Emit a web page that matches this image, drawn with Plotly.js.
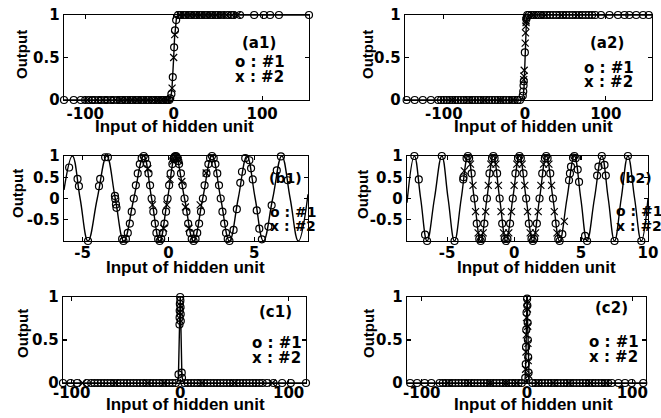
<!DOCTYPE html>
<html>
<head>
<meta charset="utf-8">
<script src="https://cdn.plot.ly/plotly-3.0.1.min.js"></script>
<style>html,body{margin:0;padding:0;background:#fff;}#chart{width:661px;height:418px;}</style>
</head>
<body>
<div id="chart"></div>
<script>
// ---------- DATA ----------
// Panel (a1): sigmoid
const a1_line_x = [-124, -10, -6, -4, -3, -2, -1, 0, 1, 2, 3, 4, 6, 10, 153];
const a1_line_y = [0, 0, 0.003, 0.02, 0.05, 0.12, 0.27, 0.5, 0.73, 0.88, 0.95, 0.98, 0.997, 1, 1];
const a1_o_x = [-124,-113,-105,-100,-96,-92,-89,-85,-82,-78,-75,-71,-68,-64,-61,-58,-55,-52,-49,-46,-43,-40,-37,-34,-31,-28,-25,-22,-20,-17,-14,-12,-9,-7,-5,
  -3.9,-2.6,-1,0.5,1.5,2.8,
  5,8,11,14,17,20,23,26,29,32,35,38,41,44,47,50,53,57,61,65,68,75,91,102,109,119,153];
const a1_o_y = [0,0,0,0,0,0,0,0,0,0,0,0,0,0,0,0,0,0,0,0,0,0,0,0,0,0,0,0,0,0,0,0,0,0,0,
  0.02,0.07,0.27,0.62,0.82,0.94,
  1,1,1,1,1,1,1,1,1,1,1,1,1,1,1,1,1,1,1,1,1,1,1,1,1,1,1];
const a1_x_x = [-97,-87,-80,-73,-66,-60,-53,-47,-41,-35,-29,-23,-18,-13,-8,-1.8,0,1.2,7,12,18,24,30,36,42,48,54,60,66,72];
const a1_x_y = [0,0,0,0,0,0,0,0,0,0,0,0,0,0,0,0.14,0.5,0.77,1,1,1,1,1,1,1,1,1,1,1,1];

// Panel (a2): sigmoid
const a2_line_x = [-148, -6, -3, -2, -1, 0, 1, 2, 3, 6, 157];
const a2_line_y = [0, 0, 0.02, 0.05, 0.15, 0.5, 0.85, 0.95, 0.98, 1, 1];
const a2_o_x = [-146,-136,-126,-116,-107,-103.5,-100,-96.5,-93,-89.5,-86,-82.5,-79,-75.5,-72,-68.5,-65,-61.5,-58,-54.5,-51,-47.5,-44,-40.5,-37,-33.5,-30,-26.5,-23,-19.5,-16,-12.5,-9,-6,
  -2.6,-2.0,-1.6,-1.3,0,1.8,2.2,
  3,5,8,11,14,17,20,23,27,31,35,39,43,47,51,55,59,63,67,71,75,79,83,87,94,104.5,115,123,129,137.5,146,153];
const a2_o_y = [0,0,0,0,0,0,0,0,0,0,0,0,0,0,0,0,0,0,0,0,0,0,0,0,0,0,0,0,0,0,0,0,0,0,
  0.05,0.1,0.17,0.22,0.56,0.95,0.97,
  1,1,1,1,1,1,1,1,1,1,1,1,1,1,1,1,1,1,1,1,1,1,1,1,1,1,1,1,1,1,1,1];
const a2_x_x = [-1.2,-1.4,0.4,0.8,1.2,1.5,1.6,-0.8,-90,-70,-50,-30,-15,10,25,45,65];
const a2_x_y = [0.28,0.24,0.67,0.79,0.87,0.91,0.93,0.35,0,0,0,0,0,1,1,1,1];

// Panel (b1): sine-like
const b1_line_x = [-6.09,-5.60,-5.15,-4.69,-4.15,-3.60,-3.10,-2.60,-2.02,-1.44,-0.98,-0.51,-0.05,0.41,0.94,1.47,2.00,2.54,3.05,3.56,4.07,4.58,5.06,5.54,6.08,6.61,7.10,7.58,8.14];
const b1_line_y = [0.2,1,0,-1,0,1,0,-1,0,1,0,-1,0,1,0,-1,0,1,0,-1,0,1,0,-1,0,1,0,-1,0.1];
const b1_o_x = [-5.79,-5.30,-5.22,-4.69,-3.98,-4.05,-3.69,-3.53,-3.12,-3.10,-3.06,-3.03,-2.70,-2.62,
  -2.48,-2.37,-2.25,-2.14,-2.02,-1.90,-1.79,-1.67,-1.56,-1.44,
  -1.35,-1.25,-1.16,-1.07,-0.98,-0.88,-0.79,-0.70,-0.60,-0.51,
  -0.42,-0.33,-0.23,-0.14,-0.05,0.04,0.13,0.23,0.32,0.41,
  0.30,0.36,0.46,0.52,0.58,
  0.62,0.73,0.83,0.94,1.05,1.15,1.26,1.36,1.47,
  1.58,1.68,1.79,1.90,2.01,2.11,2.22,2.33,2.43,2.54,
  2.64,2.74,2.85,2.95,3.05,3.15,3.25,3.36,3.46,3.56,
  3.80,3.99,4.19,4.29,4.48,
  4.72,4.82,4.92,5.15,5.30,5.45,
  5.83,6.02,6.32,6.56,6.96];
const b1_o_y = [0.73,0.46,0.29,-1.0,0.46,0.29,0.97,0.97,0.06,-0.01,-0.14,-0.22,-0.95,-1.0,
  -0.95,-0.81,-0.59,-0.31,0,0.31,0.59,0.81,0.95,1.0,
  0.95,0.81,0.59,0.31,0,-0.31,-0.59,-0.81,-0.95,-1.0,
  -0.95,-0.81,-0.59,-0.31,0,0.31,0.59,0.81,0.95,1.0,
  0.93,0.98,0.99,0.95,0.88,
  0.81,0.59,0.31,0,-0.31,-0.59,-0.81,-0.95,-1.0,
  -0.95,-0.81,-0.59,-0.31,0,0.31,0.59,0.81,0.95,1.0,
  0.95,0.81,0.59,0.31,0,-0.31,-0.59,-0.81,-0.95,-1.0,
  -0.74,-0.25,0.37,0.63,0.95,
  0.90,0.71,0.45,-0.28,-0.71,-0.96,
  -0.66,-0.16,0.66,0.99,0.43];
const b1_x_x = [-0.28,-0.09,0.09,0.27,0.57,0.78,0.99,1.20,-1.20,-0.93,1.85,2.20];
const b1_x_y = [-0.70,-0.15,0.45,0.88,0.90,0.40,-0.20,-0.70,0.70,-0.15,-0.15,0.60];

// Panel (b2): sine-like
const b2_line_x = [-8,-7.45,-6.98,-6.5,-5.95,-5.4,-4.93,-4.45,-3.95,-3.45,-2.98,-2.5,-2.03,-1.55,-1.08,-0.6,-0.1,0.4,0.9,1.4,1.9,2.4,2.9,3.4,3.95,4.5,4.98,5.45,6.0,6.55,7.03,7.5,8.0,8.5,9.0,9.5,10];
const b2_line_y = [-0.1,1,0,-1,0,1,0,-1,0,1,0,-1,0,1,0,-1,0,1,0,-1,0,1,0,-1,0,1,0,-1,0,1,0,-1,0,1,0,-1,0];
const b2_o_x = [-7.45,-7.12,-6.65,-6.5,-5.4,-4.45,-3.80,-3.78,-3.55,
  -3.45,-3.36,-3.17,-2.98,-2.79,-2.60,
  -2.5,-2.41,-2.22,-2.03,-1.84,-1.65,
  -1.55,-1.46,-1.27,-1.08,-0.89,-0.70,
  -0.6,-0.5,-0.3,-0.1,0.1,0.3,
  0.4,0.5,0.7,0.9,1.1,1.3,
  1.4,1.5,1.7,1.9,2.1,2.3,
  2.4,2.5,2.7,2.9,3.1,3.3,3.4,
  3.6,4.1,4.17,4.25,4.4,4.5,
  4.6,4.75,4.85,5.3,5.45,
  6.2,6.3,6.55,6.75,6.85,7.5,8.5,9.5];
const b2_o_y = [1.0,0.45,-0.85,-1.0,1.0,-1.0,0.45,0.5,0.95,
  1.0,0.95,0.59,0,-0.59,-0.95,
  -1.0,-0.95,-0.59,0,0.59,0.95,
  1.0,0.95,0.59,0,-0.59,-0.95,
  -1.0,-0.95,-0.59,0,0.59,0.95,
  1.0,0.95,0.59,0,-0.59,-0.95,
  -1.0,-0.95,-0.59,0,0.59,0.95,
  1.0,0.95,0.59,0,-0.59,-0.95,-1.0,
  -0.84,0.43,0.59,0.75,0.96,1.0,
  0.95,0.68,0.39,-0.88,-1.0,
  0.54,0.75,1.0,0.79,0.54,-1.0,1.0,-1.0];
const b2_x_x = [-3.72,-3.26,-3.07,-2.88,-2.69,-2.31,-2.12,-1.93,-1.74,-1.36,-1.17,-0.98,-0.79,-0.4,-0.2,0.0,0.2,0.6,0.8,1.0,1.2,1.6,1.8,2.0,2.2,2.6,2.8,3.0,3.2,3.75];
const b2_x_y = [0.65,0.81,0.31,-0.31,-0.81,-0.81,-0.31,0.31,0.81,0.81,0.31,-0.31,-0.81,-0.81,-0.31,0.31,0.81,0.81,0.31,-0.31,-0.81,-0.81,-0.31,0.31,0.81,0.81,0.31,-0.31,-0.81,-0.54];

// Panel (c1): narrow bump
const c1_line_x = [-108,-3,-1.6,-1.1,-0.8,-0.5,-0.25,0,0.25,0.5,0.8,1.1,1.6,3,116];
const c1_line_y = [0,0,0.08,0.3,0.53,0.78,0.94,1,0.94,0.78,0.53,0.3,0.08,0,0];
const c1_o_x = [-108,-101,-95,-86,-82,-79,-76,-73,-70,-67,-64,-61,-58,-55,-52,-49,-46,-43,-40,-37,-34,-31,-28,-25,-22,-19,-16,-13,-10,-7,-4,
  -0.62,0.58,-0.53,0.48,-0.42,0.36,-0.29,0.2,0,-1.5,1.45,1.7,
  4,7,10,13,16,19,22,25,28,31,34,37,40,43,46,49,52,55,58,61,64,67,70,73,76,80,86,94,102,116];
const c1_o_y = [0,0,0,0,0,0,0,0,0,0,0,0,0,0,0,0,0,0,0,0,0,0,0,0,0,0,0,0,0,0,0,
  0.68,0.72,0.76,0.8,0.84,0.88,0.92,0.96,1.0,0.1,0.12,0.06,
  0,0,0,0,0,0,0,0,0,0,0,0,0,0,0,0,0,0,0,0,0,0,0,0,0,0,0,0,0,0];
const c1_x_x = [-90,-60,-30,-15,20,50,85,0.3,-0.4];
const c1_x_y = [0,0,0,0,0,0,0,0.9,0.82];

// Panel (c2): narrow bump
const c2_line_x = [-114,-3,-2,-1.4,-1,-0.6,-0.3,0,0.3,0.6,1,1.4,2,3,113];
const c2_line_y = [0,0,0.02,0.14,0.37,0.7,0.91,1,0.91,0.7,0.37,0.14,0.02,0,0];
const c2_o_x = [-111,-104.4,-97.2,-90.9,-83,-80,-77,-74,-71,-68,-65,-62,-59,-56,-53,-50,-47,-44,-41,-38,-35,-32,-29,-26,-23,-20,-17,-14,-11,-8,-5,
  5,8,11,14,17,20,23,26,29,32,35,38,41,44,47,50,53,56,59,62,65,68,71,74,77,80.5,86.8,93.1,99.4,110.4,
  0.1,0.31,-0.45,0.6,-0.7,0.8,-0.93,1.1,-1.2,1.45,-1.7];
const c2_o_y = [0,0,0,0,0,0,0,0,0,0,0,0,0,0,0,0,0,0,0,0,0,0,0,0,0,0,0,0,0,0,0,
  0,0,0,0,0,0,0,0,0,0,0,0,0,0,0,0,0,0,0,0,0,0,0,0,0,0,0,0,0,0,
  0.98,0.9,0.82,0.7,0.62,0.5,0.42,0.3,0.22,0.12,0.06];
const c2_x_x = [-0.22,0.38,-0.52,0.65,-0.75,0.87,-1.0,1.15,-1.35,1.6,-75,-55,-35,-20,-10,10,25,40,60,75];
const c2_x_y = [0.94,0.86,0.76,0.66,0.56,0.46,0.36,0.26,0.16,0.09,0,0,0,0,0,0,0,0,0,0];

// Tick labels
const tick_big_vals = [-100, 0, 100];
const tick_big_text = ['-100', '0', '100'];
const tick_b1_vals = [-5, 0, 5];
const tick_b1_text = ['-5', '0', '5'];
const tick_b2_vals = [-5, 0, 5, 10];
const tick_b2_text = ['-5', '0', '5', '10'];
const ytick_01_vals = [0, 0.5, 1];
const ytick_01_text = ['0', '0.5', '1'];
const ytick_b_vals = [-0.5, 0, 0.5, 1];
const ytick_b_text = ['-0.5', '0', '0.5', '1'];

const panelLabels = ['(a1)', '(a2)', '(b1)', '(b2)', '(c1)', '(c2)'];
const legendO = 'o : #1';
const legendX = 'x : #2';
const xTitle = 'Input of hidden unit';
const yTitle = 'Output';

// ---------- BUILD ----------
const TICKFONT = {family:'DejaVu Sans', size:15, color:'#000', weight:'bold'};
const TITLEFONT = {family:'Liberation Sans', size:17, color:'#000', weight:'bold'};
const YTITLEFONT = {family:'Liberation Sans', size:15, color:'#000', weight:'bold'};
const W = 661, H = 418;
const px = v => v / W;
const py = v => 1 - v / H;

const panels = [
  {lx:a1_line_x, ly:a1_line_y, ox:a1_o_x, oy:a1_o_y, xx:a1_x_x, xy:a1_x_y, shape:'linear',
   dom:[64,309], ydom:[15,100], range:[-124,153], yr:[0,1], tv:tick_big_vals, tt:tick_big_text, ytv:ytick_01_vals, ytt:ytick_01_text, tls:0},
  {lx:a2_line_x, ly:a2_line_y, ox:a2_o_x, oy:a2_o_y, xx:a2_x_x, xy:a2_x_y, shape:'linear',
   dom:[405,652], ydom:[15,100], range:[-148,157], yr:[0,1], tv:tick_big_vals, tt:tick_big_text, ytv:ytick_01_vals, ytt:ytick_01_text, tls:0},
  {lx:b1_line_x, ly:b1_line_y, ox:b1_o_x, oy:b1_o_y, xx:b1_x_x, xy:b1_x_y, shape:'spline',
   dom:[64,308], ydom:[156,241], range:[-6.09,8.14], yr:[-1,1], tv:tick_b1_vals, tt:tick_b1_text, ytv:ytick_b_vals, ytt:ytick_b_text, tls:-2},
  {lx:b2_line_x, ly:b2_line_y, ox:b2_o_x, oy:b2_o_y, xx:b2_x_x, xy:b2_x_y, shape:'spline',
   dom:[407,648], ydom:[156,241], range:[-8,10], yr:[-1,1], tv:tick_b2_vals, tt:tick_b2_text, ytv:ytick_b_vals, ytt:ytick_b_text, tls:-2},
  {lx:c1_line_x, ly:c1_line_y, ox:c1_o_x, oy:c1_o_y, xx:c1_x_x, xy:c1_x_y, shape:'linear',
   dom:[63,306], ydom:[297,383], range:[-108,116], yr:[0,1], tv:tick_big_vals, tt:tick_big_text, ytv:ytick_01_vals, ytt:ytick_01_text, tls:-4},
  {lx:c2_line_x, ly:c2_line_y, ox:c2_o_x, oy:c2_o_y, xx:c2_x_x, xy:c2_x_y, shape:'linear',
   dom:[407,646], ydom:[297,383], range:[-114,113], yr:[0,1], tv:tick_big_vals, tt:tick_big_text, ytv:ytick_01_vals, ytt:ytick_01_text, tls:-4}
];

// text anchor positions in pixels
const annoPos = [
  [[240,43],[233,62],[233,77]],
  [[588,43],[582,68],[582,82]],
  [[267,178],[268,212],[268,226]],
  [[617,178],[614,211],[614,226]],
  [[257,312],[250,343],[250,358]],
  [[593,308],[587,342],[587,357]]
];
const legendSize = [15, 15, 14, 14, 15, 15];
const xTitlePos = [[174,127],[533,127],[186,267],[536,267],[185,404],[533,404]];
const yTitlePos = [[22,55],[368,55],[17,194],[363,195],[22,334],[368,334]];

const traces = [];
const layout = {
  width: W, height: H,
  margin: {l:0, r:0, t:0, b:0, pad:0},
  paper_bgcolor: '#ffffff', plot_bgcolor: '#ffffff',
  showlegend: false,
  font: {family: 'DejaVu Sans', color: '#000', size: 15},
  annotations: []
};

panels.forEach((p, i) => {
  const n = i + 1;
  const xa = n === 1 ? 'x' : 'x' + n;
  const ya = n === 1 ? 'y' : 'y' + n;
  traces.push({x:p.lx, y:p.ly, xaxis:xa, yaxis:ya, type:'scatter', mode:'lines',
    line:{color:'#000', width:1.4, shape:p.shape, smoothing:1.2}, hoverinfo:'skip'});
  traces.push({x:p.ox, y:p.oy, xaxis:xa, yaxis:ya, type:'scatter', mode:'markers', cliponaxis:false,
    marker:{symbol:'circle-open', size:7, color:'#000', line:{color:'#000', width:1.2}}});
  traces.push({x:p.xx, y:p.xy, xaxis:xa, yaxis:ya, type:'scatter', mode:'markers', cliponaxis:false,
    marker:{symbol:'x-thin-open', size:7, color:'#000', line:{color:'#000', width:1.2}}});

  const xkey = n === 1 ? 'xaxis' : 'xaxis' + n;
  const ykey = n === 1 ? 'yaxis' : 'yaxis' + n;
  const common = {showline:true, mirror:'ticks', linecolor:'#000', linewidth:1.4,
    ticks:'inside', ticklen:4, tickwidth:1.2, tickcolor:'#000', showgrid:false, zeroline:false,
    tickfont:TICKFONT, tickmode:'array', fixedrange:true};
  layout[xkey] = Object.assign({}, common, {
    domain:[px(p.dom[0]), px(p.dom[1])], range:p.range, anchor:ya,
    tickvals:p.tv, ticktext:p.tt, ticklabelstandoff:p.tls
  });
  layout[ykey] = Object.assign({}, common, {
    domain:[py(p.ydom[1]), py(p.ydom[0])], range:p.yr, anchor:xa,
    tickvals:p.ytv, ticktext:p.ytt
  });

  const texts = [panelLabels[i], legendO, legendX];
  annoPos[i].forEach((pos, k) => {
    layout.annotations.push({xref:'paper', yref:'paper', x:px(pos[0]), y:py(pos[1]),
      xanchor:'left', yanchor:'middle', showarrow:false, text:texts[k],
      font:{family:'DejaVu Sans', size:legendSize[i], color:'#000', weight:'bold'}});
  });
  layout.annotations.push({xref:'paper', yref:'paper', x:px(xTitlePos[i][0]), y:py(xTitlePos[i][1]),
    xanchor:'center', yanchor:'middle', showarrow:false, text:xTitle, font:TITLEFONT});
  layout.annotations.push({xref:'paper', yref:'paper', x:px(yTitlePos[i][0]), y:py(yTitlePos[i][1]),
    xanchor:'center', yanchor:'middle', showarrow:false, text:yTitle, textangle:-90, font:YTITLEFONT});
});

Plotly.newPlot('chart', traces, layout, {staticPlot:true, displayModeBar:false});
</script>
</body>
</html>
